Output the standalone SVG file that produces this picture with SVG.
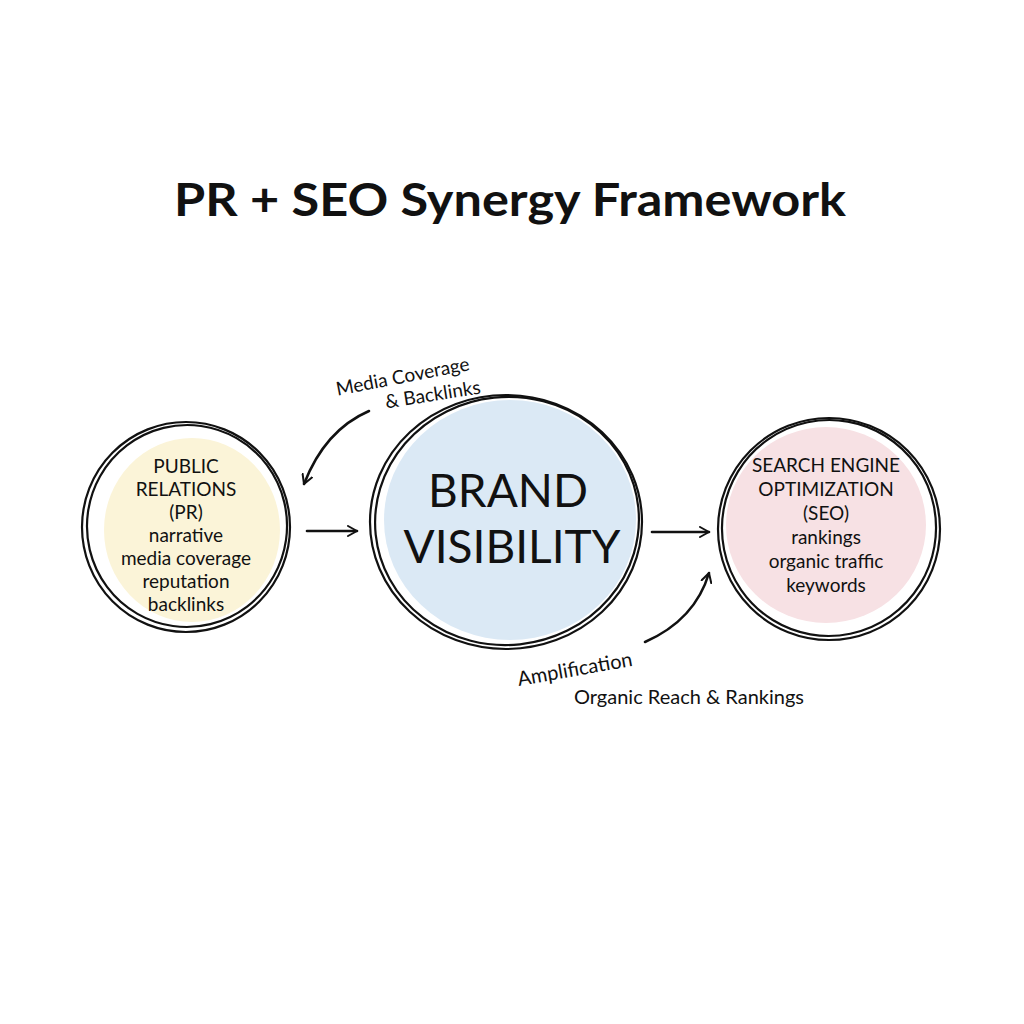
<svg xmlns="http://www.w3.org/2000/svg" width="1024" height="1024" viewBox="0 0 1024 1024">
<defs>
<style>
.t{font-family:Lato,"Open Sans","Liberation Sans",sans-serif;fill:#111;text-anchor:middle}
.ring{fill:none;stroke:#111;stroke-width:2.2}
.conn{fill:none;stroke:#111;stroke-width:2.6;stroke-linecap:round}
</style>
<marker id="ah" viewBox="0 0 12 12" refX="10" refY="6" markerWidth="12" markerHeight="12" markerUnits="userSpaceOnUse" orient="auto">
<path d="M1,1 L10,6 L1,11" fill="none" stroke="#111" stroke-width="2" stroke-linecap="round" stroke-linejoin="round"/>
</marker>
</defs>
<rect width="1024" height="1024" fill="#fff"/>
<text class="t" x="510" y="216" font-size="45" font-weight="bold" textLength="672" lengthAdjust="spacingAndGlyphs">PR + SEO Synergy Framework</text>

<g id="pr">
<ellipse cx="192" cy="530" rx="88" ry="92" fill="#fbf4d8"/>
<ellipse class="ring" cx="186" cy="527" rx="104" ry="105"/>
<ellipse class="ring" cx="187" cy="526" rx="100" ry="101" transform="rotate(8 187 526)"/>
<text class="t" x="186" y="473" font-size="19">PUBLIC</text>
<text class="t" x="186" y="496" font-size="19">RELATIONS</text>
<text class="t" x="186" y="519" font-size="19">(PR)</text>
<text class="t" x="186" y="542" font-size="19">narrative</text>
<text class="t" x="186" y="565" font-size="19">media coverage</text>
<text class="t" x="186" y="588" font-size="19">reputation</text>
<text class="t" x="186" y="611" font-size="19">backlinks</text>
</g>

<g id="brand">
<ellipse cx="510" cy="520" rx="126" ry="120" fill="#dbe9f5"/>
<ellipse class="ring" cx="506" cy="522" rx="136" ry="127"/>
<ellipse class="ring" cx="507" cy="521" rx="132" ry="124" transform="rotate(-6 507 521)"/>
<text class="t" x="508" y="507" font-size="46">BRAND</text>
<text class="t" x="512" y="563" font-size="46">VISIBILITY</text>
</g>

<g id="seo">
<ellipse cx="826" cy="525" rx="100" ry="98" fill="#f7e1e4"/>
<ellipse class="ring" cx="829" cy="529" rx="111" ry="111"/>
<ellipse class="ring" cx="829" cy="528" rx="107" ry="108" transform="rotate(10 829 528)"/>
<text class="t" x="826" y="472" font-size="19">SEARCH ENGINE</text>
<text class="t" x="826" y="496" font-size="19">OPTIMIZATION</text>
<text class="t" x="826" y="520" font-size="19">(SEO)</text>
<text class="t" x="826" y="544" font-size="19">rankings</text>
<text class="t" x="826" y="568" font-size="19">organic traffic</text>
<text class="t" x="826" y="592" font-size="19">keywords</text>
</g>

<g id="connectors">
<path class="conn" d="M307,531 L357,531" marker-end="url(#ah)"/>
<path class="conn" d="M652,532 L709,532" marker-end="url(#ah)"/>
<path class="conn" d="M369,411 Q325,430 304,484" marker-end="url(#ah)"/>
<path class="conn" d="M645,642 Q695,620 709,573" marker-end="url(#ah)"/>
</g>

<g id="labels">
<text class="t" x="403" y="383" font-size="19" transform="rotate(-11 403 378)">Media Coverage</text>
<text class="t" x="433" y="401" font-size="19" transform="rotate(-9 433 396)">&amp; Backlinks</text>
<text class="t" x="575" y="676" font-size="20" transform="rotate(-10 575 670)">Amplification</text>
<text class="t" x="689" y="704" font-size="20">Organic Reach &amp; Rankings</text>
</g>
</svg>
